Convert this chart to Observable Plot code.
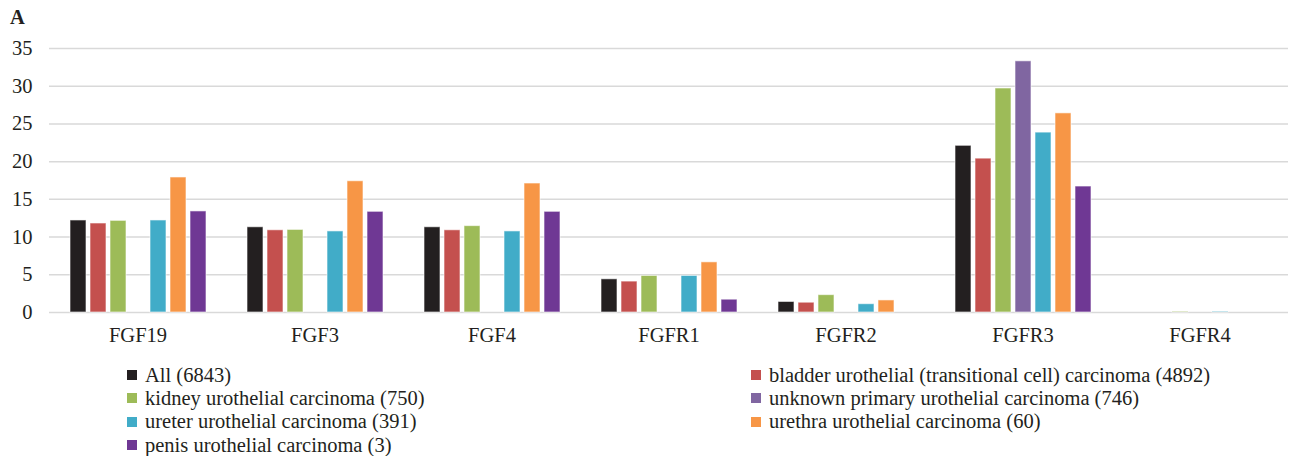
<!DOCTYPE html>
<html><head><meta charset="utf-8">
<script src="https://cdn.jsdelivr.net/npm/d3@7"></script>
<script src="https://cdn.jsdelivr.net/npm/@observablehq/plot@0.6"></script>
<style>
body{margin:0;background:#fff;font-family:"Liberation Serif","Times New Roman",serif;color:#231f20}
#wrap{position:relative;width:1292px;height:456px;overflow:hidden}
#chart{position:absolute;left:0;top:0}
#panel{position:absolute;left:10px;top:7px;font-weight:bold;font-size:20.5px;line-height:20px}
#legend{position:absolute;left:127px;top:363.5px;display:grid;grid-template-columns:624px auto;grid-auto-rows:23.3px}
.leg{font-size:20.5px;display:flex;align-items:center;white-space:nowrap}
.sw{width:10px;height:10px;margin-right:8px;flex:none}
</style></head><body>
<div id="wrap"><div id="chart"></div><div id="panel">A</div><div id="legend"></div></div>
<script>
const genes = ["FGF19","FGF3","FGF4","FGFR1","FGFR2","FGFR3","FGFR4"];
const seriesNames = [
  "All (6843)",
  "bladder urothelial (transitional cell) carcinoma (4892)",
  "kidney urothelial carcinoma (750)",
  "unknown primary urothelial carcinoma (746)",
  "ureter urothelial carcinoma (391)",
  "urethra urothelial carcinoma (60)",
  "penis urothelial carcinoma (3)"
];
const seriesColors = ["#231F20","#C4504E","#9DBB58","#8066A1","#41ACC8","#F79646","#6F3894"];
const allValues     = [12.2, 11.3, 11.3, 4.4, 1.4, 22.1, null];
const bladderValues = [11.8, 10.9, 10.9, 4.1, 1.3, 20.4, null];
const kidneyValues  = [12.15, 10.95, 11.45, 4.85, 2.3, 29.7, 0.1];
const unknownValues = [null, null, null, null, null, 33.3, null];
const ureterValues  = [12.2, 10.75, 10.75, 4.85, 1.1, 23.85, 0.1];
const urethraValues = [17.9, 17.4, 17.1, 6.65, 1.6, 26.4, null];
const penisValues   = [13.4, 13.35, 13.35, 1.7, null, 16.7, null];
const yTicks = [0, 5, 10, 15, 20, 25, 30, 35];

const valueLists = [allValues, bladderValues, kidneyValues, unknownValues, ureterValues, urethraValues, penisValues];
const data = [];
genes.forEach((g, i) => valueLists.forEach((vals, j) => {
  if (vals[i] != null) data.push({gene: g, series: seriesNames[j], value: vals[i]});
}));

const chart = Plot.plot({
  width: 1292, height: 355,
  marginLeft: 48, marginRight: 3, marginTop: 48, marginBottom: 43,
  style: {fontFamily: "'Liberation Serif','Times New Roman',serif", fontSize: "20.5px", color: "#231f20", background: "transparent"},
  fx: {domain: genes, padding: 0, label: null, axis: null},
  x: {domain: seriesNames, paddingInner: 0.2, paddingOuter: 0.84, axis: null},
  y: {domain: [0, 35], ticks: yTicks, tickSize: 0, tickPadding: 17, label: null},
  color: {domain: seriesNames, range: seriesColors},
  marks: [
    Plot.ruleY(yTicks, {stroke: "#d9d9d9", strokeWidth: 1.5}),
    Plot.barY(data, {fx: "gene", x: "series", y: "value", fill: "series", stroke: "white", strokeOpacity: 0.6, strokeWidth: 1}),
    Plot.axisFx({anchor: "bottom", tickSize: 0, tickPadding: 15, fontSize: 20.5, label: null})
  ]
});
document.getElementById("chart").appendChild(chart);

const legend = document.getElementById("legend");
seriesNames.forEach((name, j) => {
  const item = document.createElement("div");
  item.className = "leg";
  const sw = document.createElement("span");
  sw.className = "sw";
  sw.style.background = seriesColors[j];
  const t = document.createElement("span");
  t.textContent = name;
  item.appendChild(sw); item.appendChild(t);
  legend.appendChild(item);
});
</script>
</body></html>
